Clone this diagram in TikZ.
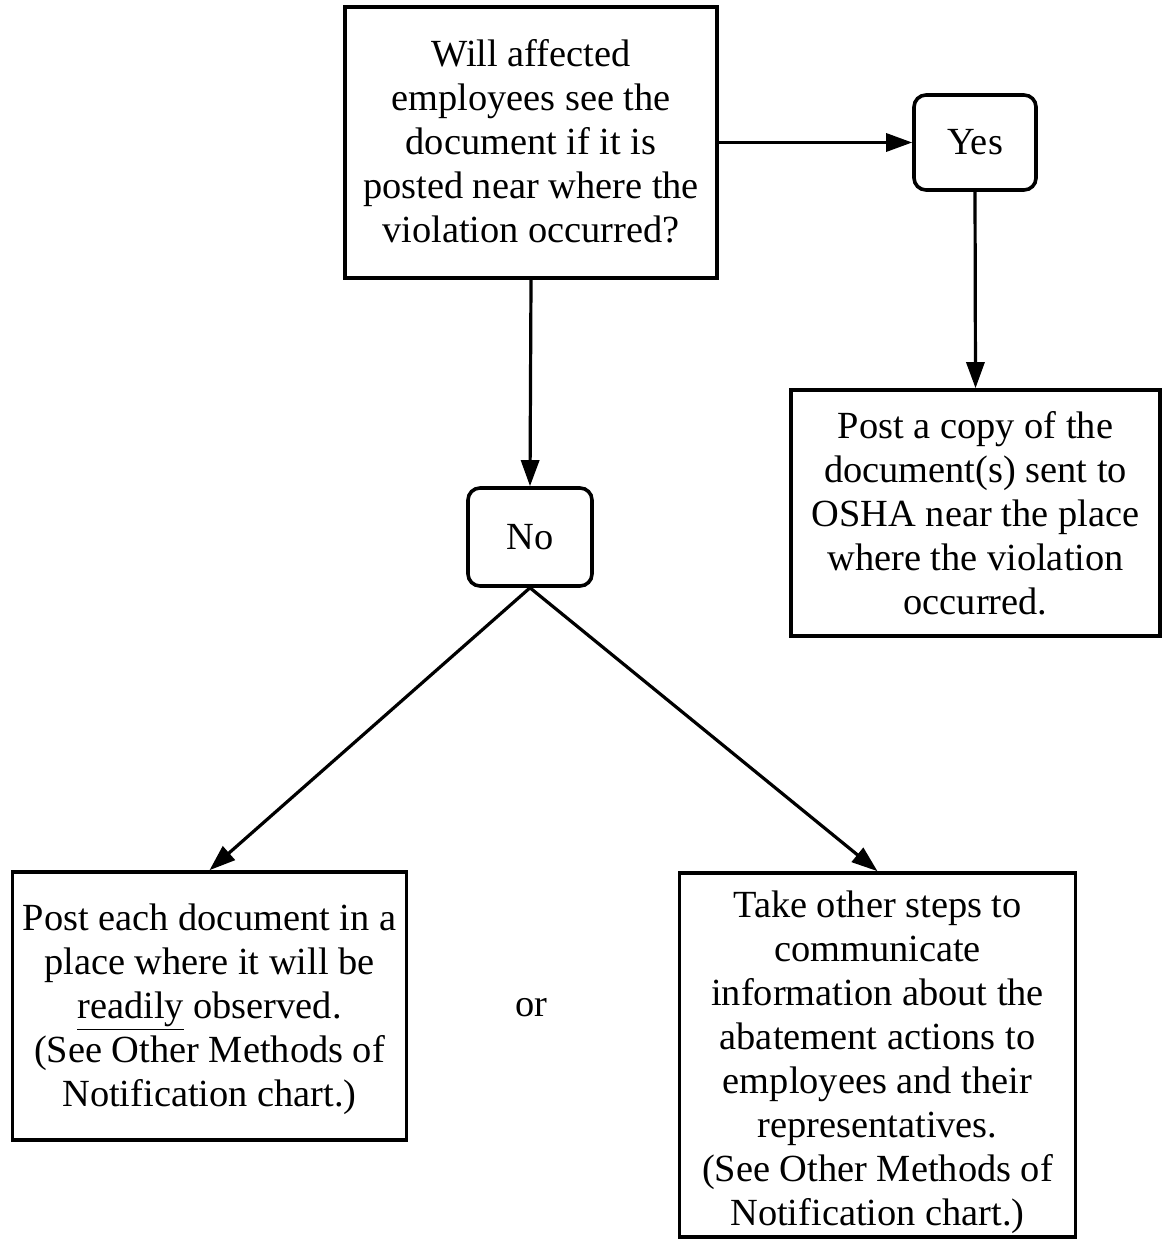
\documentclass[tikz,border=0pt]{standalone}
\usepackage{fontspec}
\setmainfont{Liberation Serif}
\usetikzlibrary{arrows.meta}
\begin{document}
\begin{tikzpicture}[x=0.5pt,y=-0.5pt,
  txt/.style={align=center, font=\fontsize{19.2}{22}\selectfont},
  box/.style={draw, line width=1.8pt, txt, inner sep=0pt},
  rbox/.style={box, rounded corners=6pt},
  arr/.style={line width=1.6pt, -{Triangle[length=13pt,width=9pt]}},
  plain/.style={txt, inner sep=0pt}]
\useasboundingbox (0,0) rectangle (1162,1240);
\node[box, minimum width=186pt, minimum height=135.5pt, text depth=1.5pt] (q) at (531,142.5)
  {Will affected\\employees see the\\document if it is\\posted near where the\\violation occurred?};
\node[rbox, minimum width=61pt, minimum height=47.5pt] (yes) at (975,142.5) {Yes};
\node[box, minimum width=184.5pt, minimum height=123pt] (post) at (975.5,513)
  {Post a copy of the\\document(s) sent to\\OSHA near the place\\where the violation\\occurred.};
\node[rbox, minimum width=62pt, minimum height=49pt] (no) at (530,537) {No};
\node[box, minimum width=197pt, minimum height=134pt] (left) at (209.5,1006) {};
\node[plain] (lefttext) at (209.5,1009)
  {Post each document in a\\place where it will be\\\underline{readily} observed.\\(See Other Methods of\\Notification chart.)};
\node[box, minimum width=198pt, minimum height=182pt] (right) at (877.5,1055) {};
\node[plain] (righttext) at (877.5,1062)
  {Take other steps to\\communicate\\information about the\\abatement actions to\\employees and their\\representatives.\\(See Other Methods of\\Notification chart.)};
\node[plain] (or) at (531,1008) {or};
\draw[arr] (q.east) -- (yes.west);
\draw[arr] (yes.south) -- (post.north);
\draw[arr] (q.south) -- (no.north);
\draw[arr] (no.south) -- (left.north);
\draw[arr] (no.south) -- (right.north);
\end{tikzpicture}
\end{document}
